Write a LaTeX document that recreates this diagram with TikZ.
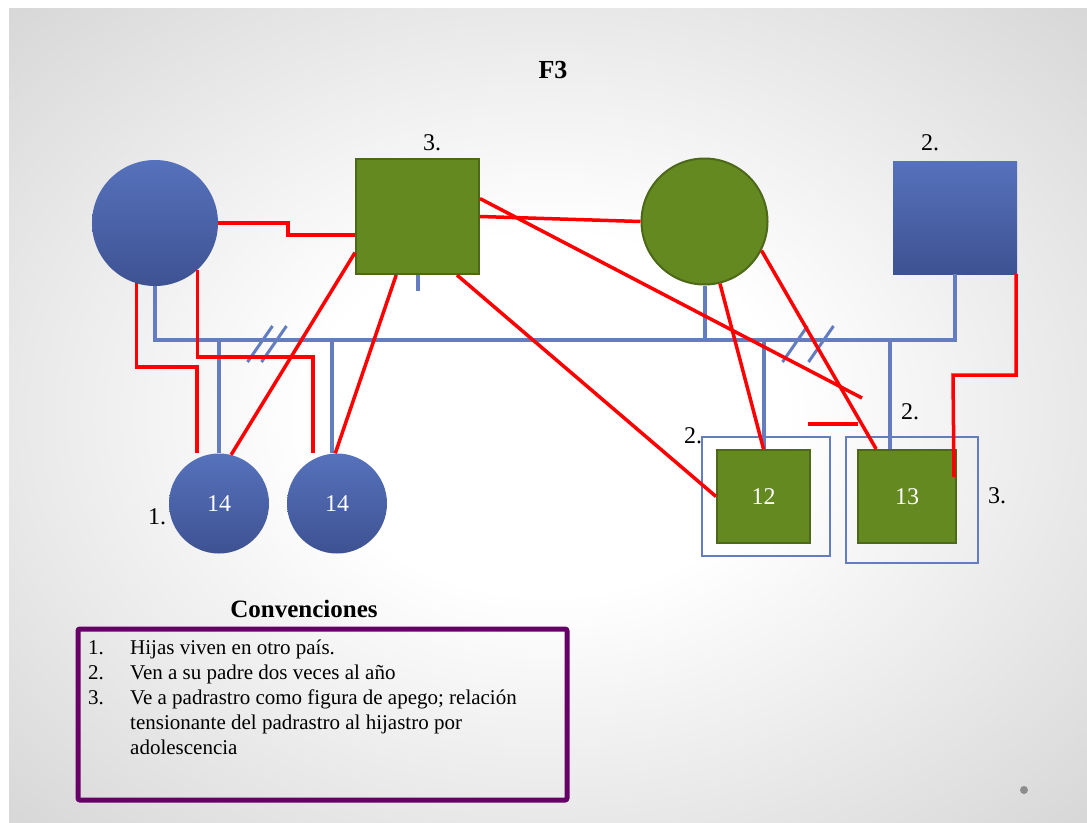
\documentclass[tikz,border=0pt]{standalone}
\usepackage{fontspec}
\setmainfont{Liberation Serif}
\definecolor{azulA}{RGB}{86,114,188}
\definecolor{azulB}{RGB}{62,82,146}
\definecolor{verde}{RGB}{99,137,32}
\definecolor{verdeosc}{RGB}{76,104,24}
\definecolor{lineaazul}{RGB}{100,124,192}
\definecolor{morado}{RGB}{102,0,102}
\pgfdeclareradialshading{fondo}{\pgfpoint{0bp}{0bp}}{color(0bp)=(white); color(11bp)=(white); color(25bp)=(black!9); color(36bp)=(black!16); color(50bp)=(black!16)}
\tikzstyle{circulo}=[circle, inner sep=0pt]
\tikzstyle{cuadro}=[rectangle, inner sep=0pt]
\tikzstyle{azul}=[top color=azulA, bottom color=azulB, draw=none]
\tikzstyle{verdef}=[fill=verde, draw=verdeosc, line width=2pt]
\tikzstyle{marco}=[draw=lineaazul, line width=1.5pt]
\tikzstyle{lazo}=[lineaazul, line width=4pt]
\tikzstyle{conflicto}=[red, line width=3.5pt]
\begin{document}
\begin{tikzpicture}[x=1pt, y=-1pt, every node/.style={font=\fontsize{24}{28}\selectfont}]
  \useasboundingbox (0,0) rectangle (1087,822);
  \shade[shading=fondo] (9,8) rectangle (1087,822);
  \node[font=\bfseries\fontsize{26}{30}\selectfont] (titulo) at (553,70) {F3};
  % Padres
  \node[circulo, azul, minimum size=126pt] (exesposa) at (155,223) {};
  \node[cuadro, verdef, minimum width=123pt, minimum height=115pt] (padrastro) at (417.5,216.5) {};
  \node[circulo, verdef, minimum size=126pt] (madre) at (704.5,221.5) {};
  \node[cuadro, azul, minimum width=124pt, minimum height=113pt] (padre) at (955,217.5) {};
  % Hijos
  \node[circulo, azul, minimum size=100pt, text=white] (hija1) at (219,503.5) {14};
  \node[circulo, azul, minimum size=100pt, text=white] (hija2) at (337,503.5) {14};
  \node[cuadro, verdef, minimum width=93pt, minimum height=93pt, text=white] (hijo12) at (763.5,496.5) {12};
  \node[cuadro, verdef, minimum width=98pt, minimum height=93pt, text=white] (hijo13) at (907,496.5) {13};
  \node[marco, minimum width=128pt, minimum height=119pt] (marco12) at (766,496.5) {};
  \node[marco, minimum width=132pt, minimum height=126pt] (marco13) at (912,500) {};
  % Lineas de union
  \coordinate (union) at (0,340);
  \coordinate (b2) at ([xshift=-5pt]hija2.north);
  \coordinate (b13) at ([xshift=-17pt]hijo13.north);
  \draw[lazo] (exesposa.south) |- (padre.south |- union) -- (padre.south);
  \draw[lazo] (padrastro.south) -- ++(0,16);
  \draw[lazo] (madre.south) -- (madre.south |- union);
  \draw[lazo] (hija1.north |- union) -- (hija1.north);
  \draw[lazo] (b2 |- union) -- (b2);
  \draw[lazo] (hijo12.north |- union) -- (hijo12.north);
  \draw[lazo] (b13 |- union) -- (b13);
  \foreach \x in {260,274,795,821}
    \draw[lazo, line width=3pt] (\x,344) ++(-12.5,18) -- ++(25,-36);
  % Relaciones tensas
  \draw[conflicto] (exesposa.east) -| (288,235) -- ([yshift=-18.5pt]padrastro.west);
  \draw[conflicto] (exesposa.-107) |- (197,367) -- (hija1.north -| 197,0);
  \draw[conflicto] (exesposa.-48) |- (313,357) -- (hija2.north -| 313,0);
  \draw[conflicto] (padrastro.210) -- (hija1.76);
  \draw[conflicto] (padrastro.-110) -- (hija2.92);
  \draw[conflicto] (padrastro.-56) -- (hijo12.west);
  \draw[conflicto] (padrastro.east) -- (madre.west);
  \coordinate (corte) at (862,398);
  \draw[conflicto] (padrastro.16) -- (corte);
  \coordinate (tope) at (808,424);
  \draw[conflicto] (tope) -- ++(50,0);
  \draw[conflicto] (madre.-76) -- (hijo12.north);
  \draw[conflicto] (madre.-27) -- (hijo13.123);
  \draw[conflicto] ([xshift=-1pt]padre.south east) |- (953,375) -- ([xshift=-3pt,yshift=19.5pt]hijo13.east);
  % Notas
  \node (n3a) at (432,143) {3.};
  \node (n2a) at (930,143) {2.};
  \node (n1) at (157,517) {1.};
  \node (n2b) at (693,436) {2.};
  \node (n2c) at (910,412) {2.};
  \node (n3b) at (997,496) {3.};
  % Convenciones
  \node[font=\bfseries\fontsize{25}{30}\selectfont] (convenciones) at (304,609) {Convenciones};
  \node[draw=morado, line width=5pt, rounded corners=2pt, minimum width=489pt, minimum height=171pt] (leyenda) at (322.5,714.5) {};
  \node[anchor=north west, inner sep=0pt, font=\fontsize{21}{25}\selectfont] (lista) at ([xshift=12.5pt,yshift=-10.5pt]leyenda.north west) {%
    \begin{tabular}{@{}p{42pt}@{}l@{}}
      1. & Hijas viven en otro país. \\
      2. & Ven a su padre dos veces al año \\
      3. & Ve a padrastro como figura de apego; relación \\
         & tensionante del padrastro al hijastro por \\
         & adolescencia
    \end{tabular}};
  \fill[black!45] (1024,790) circle (4);
\end{tikzpicture}
\end{document}
